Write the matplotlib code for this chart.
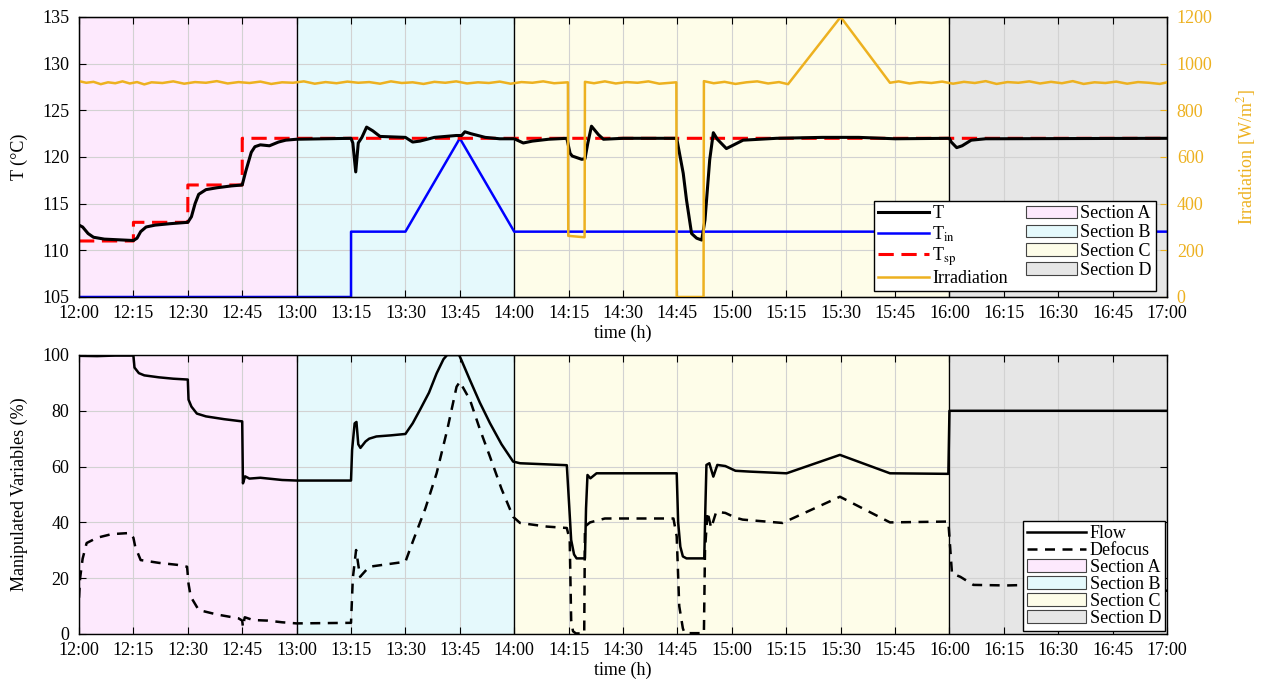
import numpy as np
import matplotlib
matplotlib.use('Agg')
import matplotlib.pyplot as plt
from matplotlib.ticker import FuncFormatter, MultipleLocator

plt.rcParams['font.family'] = ['Liberation Serif', 'DejaVu Serif']
plt.rcParams['mathtext.fontset'] = 'stix'
plt.rcParams['font.size'] = 13

# time in minutes after 12:00
T_time = [0, 1, 2.5, 4, 7, 15, 16, 17, 18.5, 21, 25, 30, 31, 32, 33, 35, 38, 42, 45,
          46, 47.5, 48.5, 50, 52.5, 55, 57, 60, 75, 75.5, 76.3, 77, 78, 79.3, 81, 83, 90,
          92, 94, 98, 104, 105.5, 106.4, 108, 112, 116, 120, 122.5, 125, 129.5, 134.5,
          135.4, 136, 138.6, 139.5, 140.3, 141.3, 143.2, 144.6, 150, 164.8, 166.6, 167.5,
          168.9, 170.3, 171.7, 172.6, 173.9, 174.9, 176, 178.5, 183.1, 192.3, 205, 215,
          225, 240, 240.5, 242, 243.5, 246, 250, 300]
T_val = [112.7, 112.5, 111.8, 111.4, 111.2, 111.05, 111.3, 112.0, 112.5, 112.7, 112.85, 113.0,
         113.6, 115.0, 116.0, 116.5, 116.7, 116.9, 117.0, 118.5, 120.5, 121.1, 121.3, 121.2,
         121.6, 121.8, 121.9, 122.0, 121.5, 118.4, 121.5, 122.1, 123.2, 122.8, 122.2, 122.1,
         121.6, 121.7, 122.1, 122.3, 122.3, 122.7, 122.5, 122.1, 121.95, 121.95, 121.5, 121.7,
         121.9, 122.0, 120.4, 120.1, 119.75, 119.8, 121.5, 123.3, 122.4, 121.9, 122.0, 122.0,
         118.25, 115.4, 111.8, 111.3, 111.1, 113.25, 119.7, 122.6, 121.9, 120.9, 121.8, 122.0,
         122.1, 122.1, 121.95, 122.0, 121.6, 121.0, 121.2, 121.8, 121.95, 122.0]

Tin_time = [0, 75, 75.01, 90, 105, 120, 300]
Tin_val = [105, 105, 112, 112, 122, 112, 112]

Tsp_time = [0, 15, 15.01, 30, 30.01, 45, 45.01, 300]
Tsp_val = [111, 111, 113, 113, 117, 117, 122, 122]

irr_time = [0, 2, 4, 6, 8, 10, 12, 14, 16, 18, 20, 23, 26, 29, 32, 35, 38, 41, 44, 47, 50,
            53, 56, 59, 62, 65, 68, 71, 74, 77, 80, 83, 86, 89, 92, 95, 98, 101, 104, 107,
            110, 113, 116, 119, 122, 125, 128, 131, 134.8, 134.9, 139.4, 139.5, 142, 145,
            148, 151, 154, 157, 160, 164.7, 164.8, 172.2, 172.3, 175, 178, 181, 184, 187,
            190, 193, 195.5, 210, 223.6, 226, 229, 232, 235, 238, 241, 244, 247, 250, 253,
            256, 259, 262, 265, 268, 271, 274, 277, 280, 283, 286, 289, 292, 295, 298, 300]
irr_val = [925, 918, 922, 912, 920, 916, 924, 915, 921, 911, 920, 917, 924, 914, 921, 918,
           925, 915, 921, 917, 923, 913, 920, 918, 924, 914, 921, 916, 923, 918, 921, 914,
           924, 917, 920, 913, 922, 918, 924, 915, 920, 917, 923, 914, 921, 918, 924, 916,
           920, 262, 256, 922, 916, 924, 915, 921, 918, 924, 914, 920, 0, 0, 925, 916, 922,
           913, 920, 924, 915, 921, 912, 1200, 918, 924, 915, 921, 917, 923, 914, 922, 917,
           925, 913, 921, 918, 924, 915, 922, 916, 925, 913, 920, 917, 923, 914, 921, 918,
           913, 920]

flow_time = [0, 5, 10, 15, 15.3, 16.5, 18, 22, 26, 30, 30.2, 31, 32.5, 35, 40, 45, 45.2, 45.8,
             47, 50, 53, 56, 60, 75, 75.3, 76, 76.5, 77, 77.6, 79, 80, 82, 86, 90, 92, 94,
             96.5, 98.6, 100.5, 101.5, 104.8, 105.5, 107.8, 110.5, 113.3, 116.5, 119.7, 121.6,
             134.5, 135.2, 135.7, 136.5, 137.2, 139.5, 139.8, 140.2, 141, 142.7, 164.8, 165.2,
             165.8, 166.5, 167.5, 172.4, 172.7, 173, 173.8, 174.9, 176, 178.2, 181, 185, 195.1,
             209.8, 223.6, 239.7, 240, 300]
flow_val = [99.7, 99.6, 99.8, 99.8, 95.5, 93.5, 92.7, 92.0, 91.5, 91.2, 84.0, 81.5, 79.0, 78.0,
            77.0, 76.2, 54.0, 56.5, 55.7, 56.0, 55.6, 55.2, 55.0, 55.0, 66.0, 75.5, 76.0, 68.0,
            66.7, 69.0, 70.0, 70.8, 71.2, 71.7, 75.5, 80.3, 86.5, 93.4, 98.5, 100.0, 100.0,
            98.0, 91.0, 83.0, 75.6, 68.0, 61.8, 61.2, 60.5, 45.0, 33.7, 28.5, 27.1, 27.1, 45.0,
            57.0, 55.8, 57.6, 57.6, 40.0, 31.3, 27.8, 27.1, 27.1, 45.0, 60.6, 61.2, 56.4, 60.6,
            60.2, 58.5, 58.2, 57.6, 64.2, 57.6, 57.4, 80.0, 80.0]

defocus_time = [0, 0.3, 1.0, 2.1, 5, 9, 14, 15, 15.5, 17, 22, 27, 29.8, 30.2, 30.8, 33, 38, 44,
                45, 45.2, 45.7, 48, 52, 56, 60, 75, 75.5, 76.4, 77.5, 80, 85, 90, 92.2, 95.5,
                98.6, 101.5, 104.1, 105, 107.8, 110.5, 113.3, 116.5, 119.7, 121.6, 129, 134.5,
                135.3, 135.7, 136.2, 137, 139.3, 139.5, 140.9, 145, 163.9, 164.8, 165.5, 166.5,
                167, 172.3, 172.6, 173.3, 174.3, 175.7, 178.2, 181, 183, 194, 209.8, 223.6,
                239.7, 240.7, 243, 246.6, 255.8, 262, 270, 278, 285, 292, 300]
defocus_val = [13.0, 20.0, 27.0, 32.6, 34.5, 35.8, 36.2, 34.5, 31.3, 26.5, 25.5, 24.8, 24.1,
               18.0, 13.4, 8.6, 7.0, 5.6, 4.8, 2.5, 6.0, 5.0, 4.8, 4.2, 3.8, 4.0, 20.0, 30.1,
               20.5, 24.1, 25.0, 25.9, 33.7, 45.0, 57.6, 73.0, 88.6, 90.4, 83.9, 73.5, 63.6,
               52.0, 42.0, 39.8, 38.5, 38.0, 33.7, 5.0, 1.0, 0.2, 0.2, 38.5, 40.0, 41.4, 41.4,
               35.0, 10.0, 2.0, 0.3, 0.3, 30.0, 43.8, 38.0, 43.8, 43.4, 41.7, 41.0, 39.8, 49.2,
               40.0, 40.3, 21.7, 20.5, 17.6, 17.4, 17.6, 16.8, 16.2, 16.8, 16.4, 15.5]

# sections: start, end, colour
section_names = ['Section A', 'Section B', 'Section C', 'Section D']
section_start = [0, 60, 120, 240]
section_end = [60, 120, 240, 300]
section_colors = ['#fde9fd', '#e5f9fc', '#fefde9', '#e6e6e6']

orange = '#edb120'


def hhmm(x, pos):
    h = 12 + int(x) // 60
    m = int(x) % 60
    return '%d:%02d' % (h, m)


def add_sections(ax):
    handles = []
    for name, s, e, c in zip(section_names, section_start, section_end, section_colors):
        h = ax.axvspan(s, e, facecolor=c, edgecolor='#444444', linewidth=0.8, zorder=1, label=name)
        handles.append(h)
    # black borders between the sections
    for s in section_start[1:]:
        ax.axvline(s, color='k', linewidth=0.9, zorder=2)
    return handles


def style_axis(ax):
    ax.set_xlim(0, 300)
    ax.xaxis.set_major_locator(MultipleLocator(15))
    ax.xaxis.set_major_formatter(FuncFormatter(hhmm))
    ax.set_axisbelow('line')
    ax.grid(True, color='#d2d2d2', linewidth=0.8)
    ax.set_xlabel('time (h)', labelpad=2)
    ax.yaxis.set_label_coords(-0.047, 0.5)
    for sp in ax.spines.values():
        sp.set_linewidth(1.0)
        sp.set_zorder(5)


fig = plt.figure(figsize=(12.64, 6.84), dpi=100)
ax1 = fig.add_axes([0.0625, 0.5658, 0.8608, 0.4094])
ax2 = fig.add_axes([0.0625, 0.0731, 0.8608, 0.4079])

# ---- top panel: temperatures and irradiation
sec1 = add_sections(ax1)
style_axis(ax1)
l_T, = ax1.plot(T_time, T_val, color='k', linewidth=2.2, label='T', zorder=4)
l_in, = ax1.plot(Tin_time, Tin_val, color='#0000ff', linewidth=1.8,
                 label=r'T$_{\mathrm{in}}$', zorder=3)
l_sp, = ax1.plot(Tsp_time, Tsp_val, color='#ff0000', linewidth=2.2, dashes=(5, 2.5),
                 label=r'T$_{\mathrm{sp}}$', zorder=3)
ax1.set_ylim(105, 135)
ax1.set_yticks(np.arange(105, 136, 5))
ax1.set_ylabel('T (°C)')
ax1.tick_params(direction='in', top=True, right=False, length=5)
ax1.tick_params(axis='x', pad=6)
ax1.tick_params(axis='y', pad=7)

ax1r = ax1.twinx()
l_irr, = ax1r.plot(irr_time, irr_val, color=orange, linewidth=1.8, label='Irradiation')
ax1r.set_ylim(0, 1200)
ax1r.set_yticks(np.arange(0, 1201, 200))
ax1r.set_ylabel('Irradiation [W/m$^2$]', color=orange)
ax1r.yaxis.set_label_coords(1.062, 0.5)
ax1r.tick_params(axis='y', direction='in', length=5, colors=orange, pad=7)
ax1r.set_xlim(0, 300)

ax1r.legend([l_T, l_in, l_sp, l_irr] + sec1,
            ['T', r'T$_{\mathrm{in}}$', r'T$_{\mathrm{sp}}$', 'Irradiation'] + section_names,
            ncol=2, loc='lower right', bbox_to_anchor=(0.99, 0.02), fancybox=False,
            framealpha=1, edgecolor='k', borderpad=0.25, labelspacing=0.1,
            handlelength=2.8, handletextpad=0.2, columnspacing=1.0, borderaxespad=0)

# ---- bottom panel: manipulated variables
sec2 = add_sections(ax2)
style_axis(ax2)
l_flow, = ax2.plot(flow_time, flow_val, color='k', linewidth=1.8, label='Flow', zorder=4)
l_def, = ax2.plot(defocus_time, defocus_val, color='k', linewidth=1.8, dashes=(4, 3),
                  label='Defocus', zorder=4)
ax2.set_ylim(0, 100)
ax2.set_yticks(np.arange(0, 101, 20))
ax2.set_ylabel('Manipulated Variables (%)')
ax2.tick_params(direction='in', top=True, right=True, length=5)
ax2.tick_params(axis='x', pad=6)
ax2.tick_params(axis='y', pad=7)
ax2.legend([l_flow, l_def] + sec2, ['Flow', 'Defocus'] + section_names,
           loc='lower right', bbox_to_anchor=(0.998, 0.012), fancybox=False,
           framealpha=1, edgecolor='k', borderpad=0.2, labelspacing=0.0,
           handlelength=3.3, handletextpad=0.2, borderaxespad=0)

fig.savefig('out.png', dpi=100)
